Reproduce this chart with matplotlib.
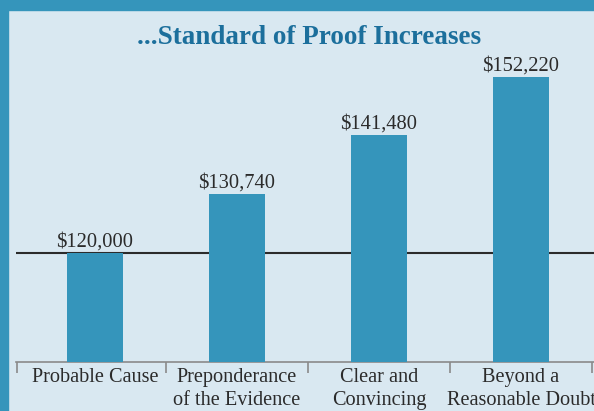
import matplotlib
matplotlib.use("Agg")
import matplotlib.pyplot as plt
from matplotlib.patches import Rectangle

categories = ["Probable Cause", "Preponderance\nof the Evidence", "Clear and\nConvincing", "Beyond a\nReasonable Doubt"]
values = [120000, 130740, 141480, 152220]
value_labels = ["$120,000", "$130,740", "$141,480", "$152,220"]
title = "...Standard of Proof Increases"

BG = "#d9e8f1"
BLUE = "#3595bb"
W, H = 594, 411

fig = plt.figure(figsize=(W / 100, H / 100), dpi=100, facecolor=BG)
# border bands
fig.patches.append(Rectangle((0, 1 - 10 / H), 1, 10 / H, transform=fig.transFigure, color=BLUE, zorder=0))
fig.patches.append(Rectangle((0, 0), 8 / W, 1, transform=fig.transFigure, color=BLUE, zorder=0))

ax = fig.add_axes([16 / W, 1 - 362 / H, (W - 16) / W, (362 - 10) / H])
ax.set_facecolor("none")
x = list(range(len(categories)))
ax.bar(x, values, width=0.394, color=BLUE, zorder=3)
ax.axhline(120000, color="#2b2b2b", lw=1.5, zorder=2)
ax.set_xlim(-0.556, 3.514)
ax.set_ylim(100000, 164445)

serif = ["Liberation Serif", "DejaVu Serif"]
for xi, v, lab in zip(x, values, value_labels):
    ax.text(xi, v + 1200, lab, ha="center", va="baseline", fontsize=14.8, family=serif, color="#2b2b2b")

for s in ["top", "right", "left"]:
    ax.spines[s].set_visible(False)
ax.spines["bottom"].set_color("#8a8a8a")
ax.spines["bottom"].set_linewidth(1.2)
ax.set_yticks([])
ax.set_xticks(x)
ax.set_xticklabels(categories, fontsize=14.6, family=serif, color="#2b2b2b", linespacing=1.3)
ax.tick_params(axis="x", which="major", length=0, pad=4)
ax.set_xticks([-0.55, 0.5, 1.5, 2.5, 3.5], minor=True)
ax.tick_params(axis="x", which="minor", length=8, color="#8a8a8a", width=1.2)

fig.text(309 / W, 1 - 38 / H, title, ha="center", va="center", fontsize=19.5, fontweight="bold",
         family=serif, color="#1c6f9c")

fig.savefig("out.png", dpi=100, facecolor=BG)
